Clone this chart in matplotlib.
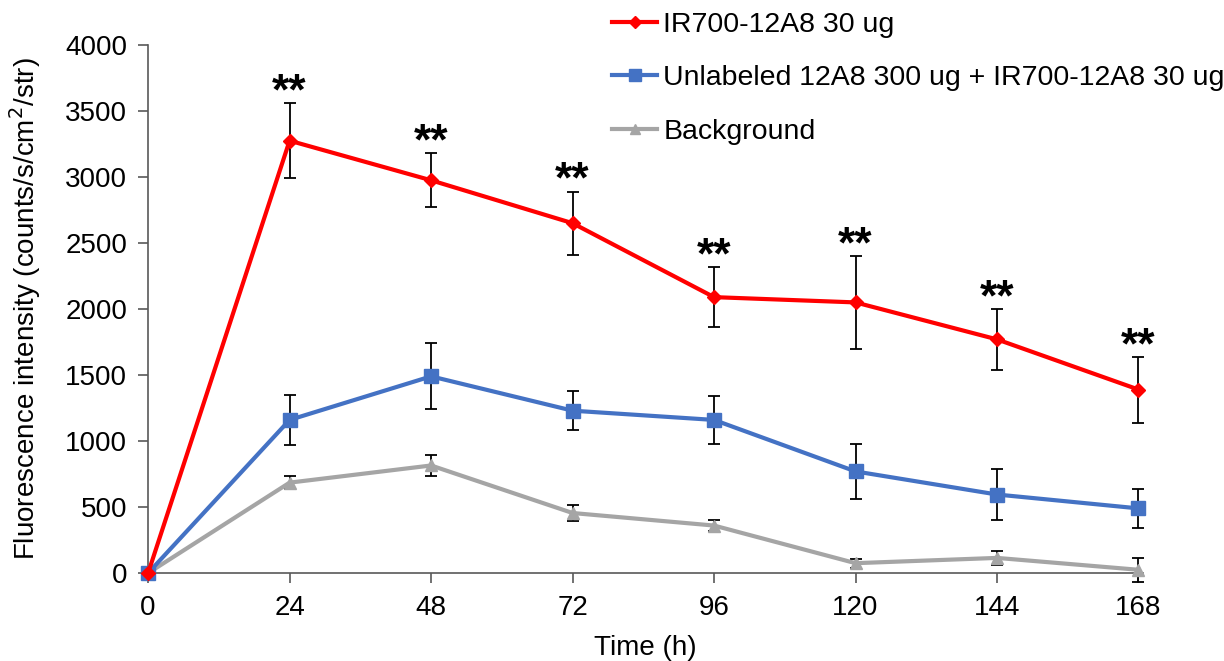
import matplotlib
matplotlib.use("Agg")
import matplotlib.pyplot as plt
from matplotlib.lines import Line2D

# data
hours = [0, 24, 48, 72, 96, 120, 144, 168]
ir700 = [0, 3275, 2975, 2650, 2090, 2050, 1770, 1390]
ir700_err = [0, 285, 205, 240, 225, 350, 230, 250]
blocked = [0, 1160, 1490, 1230, 1160, 770, 595, 490]
blocked_err = [0, 190, 250, 150, 180, 210, 195, 150]
background = [0, 685, 815, 455, 360, 75, 115, 25]
background_err = [0, 50, 80, 60, 40, 35, 55, 90]
star_hours = [24, 48, 72, 96, 120, 144, 168]

plt.rcParams['font.family'] = ['Liberation Sans', 'DejaVu Sans']

fig = plt.figure(figsize=(12.24, 6.61), dpi=100)
ax = fig.add_axes([0.121, 0.133, 0.813, 0.799])

err_kw = dict(ecolor="black", elinewidth=1.3, capsize=4.5, capthick=1.3)

series = [
    (background, background_err, "#a5a5a5", "^", 9, "Background"),
    (blocked, blocked_err, "#4472c4", "s", 10, "Unlabeled 12A8 300 ug + IR700-12A8 30 ug"),
    (ir700, ir700_err, "#ff0000", "D", 7, "IR700-12A8 30 ug"),
]
handles = []
for vals, errs, col, mk, ms, lab in series:
    ax.errorbar(hours, vals, yerr=errs, color=col, marker=mk, markersize=ms,
                linewidth=3, zorder=3, clip_on=False, **err_kw)
    handles.append(Line2D([], [], color=col, marker=mk, markersize=ms * 0.85,
                          linewidth=3, label=lab))

# significance marks above the red error bars
for hr in star_hours:
    i = hours.index(hr)
    ax.annotate("**", (hr, ir700[i] + ir700_err[i]), xytext=(0, -1),
                textcoords="offset points", ha="center", va="baseline",
                fontsize=32, fontweight="bold")

ax.set_xlim(0, 168.8)
ax.set_ylim(0, 4000)
ax.set_xticks(hours)
ax.set_yticks(range(0, 4001, 500))
ax.tick_params(labelsize=20, length=7, width=1.2, color="#595959")
ax.tick_params(axis="y", pad=8)
ax.tick_params(axis="x", pad=9)
for s in ["top", "right"]:
    ax.spines[s].set_visible(False)
for s in ["left", "bottom"]:
    ax.spines[s].set_color("#595959")
    ax.spines[s].set_linewidth(1.2)

ax.set_xlabel("Time (h)", fontsize=20, labelpad=10)
ax.set_ylabel("Fluorescence intensity (counts/s/cm$^2$/str)", fontsize=20, labelpad=16)

fig.legend(handles=handles[::-1], loc="upper left", bbox_to_anchor=(0.479, 1.02),
           frameon=False, fontsize=20.5, handlelength=1.6, labelspacing=0.95,
           handletextpad=0.2)

fig.savefig("out.png", dpi=100)
